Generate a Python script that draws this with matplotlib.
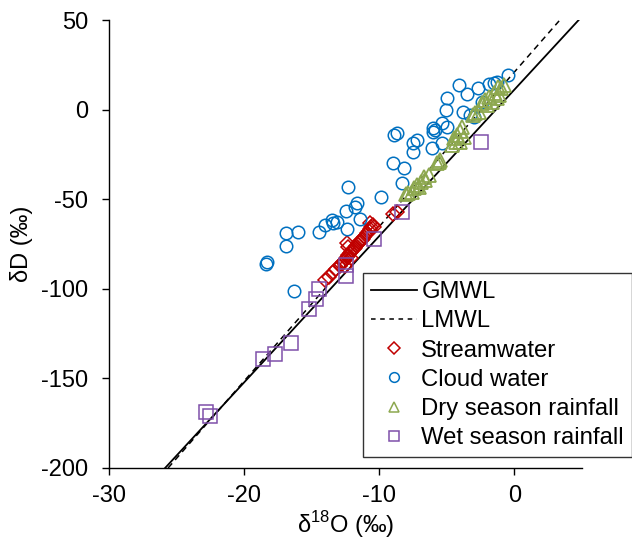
import numpy as np
import matplotlib
matplotlib.use("Agg")
import matplotlib.pyplot as plt
from matplotlib.lines import Line2D

plt.rcParams['font.family'] = ['Liberation Sans', 'DejaVu Sans']
plt.rcParams['mathtext.fontset'] = 'custom'
plt.rcParams['mathtext.rm'] = 'Liberation Sans'
plt.rcParams['axes.unicode_minus'] = False

# meteoric water lines (end points)
gmwl_x = [-25.85, 4.75]
gmwl_y = [-200, 50]
lmwl_x = [-25.63, 3.3]
lmwl_y = [-200, 49.5]

# streamwater
stream_x = [-14.0, -13.75, -13.4, -13.2, -12.9, -12.8, -12.7, -12.6, -12.5, -12.4,
            -12.35, -12.3, -12.2, -12.1, -12.0, -11.9, -12.3, -11.8, -11.7, -11.6,
            -11.5, -11.4, -11.3, -11.2, -11.1, -11.0, -10.9, -10.8, -10.7, -10.6,
            -10.5, -10.4, -10.7, -9.0, -8.7, -12.4, -12.55, -12.1]
stream_y = [-95, -93.5, -90.5, -89, -87, -86, -85, -84.5, -83.5, -82.5,
            -81.8, -81, -80, -79.5, -78.5, -78, -76.5, -77, -76, -75,
            -74, -73.5, -72.8, -72, -71, -70, -69, -67.5, -66.5, -65.5,
            -64.5, -65.5, -63.5, -58, -57, -74.7, -87.5, -83]

# cloud water
cloud_x = [-0.5, -4.1, -2.7, -1.9, -1.5, -1.3, -3.5, -5.0, -2.4, -5.1,
           -3.8, -3.3, -3.0, -6.05, -5.85, -6.0, -5.4, -5.0, -8.9, -8.7,
           -7.2, -7.5, -7.5, -6.1, -5.4, -9.0, -8.2, -8.3, -9.9, -12.3,
           -11.65, -11.8, -12.45, -11.45, -13.5, -13.1, -13.4, -14.0, -12.4, -14.5,
           -16.05, -16.9, -16.9, -18.3, -18.35, -16.3]
cloud_y = [19.5, 13.7, 11.8, 14.2, 15.0, 15.5, 8.5, 6.2, 4.4, 0.0,
           -1.5, -3.1, -4.0, -10.5, -11.4, -12.4, -7.7, -9.6, -14.2, -13.3,
           -17.0, -18.9, -23.5, -21.7, -18.9, -30.0, -32.5, -41.2, -48.5, -43.1,
           -52.3, -54.2, -56.5, -61.3, -61.7, -62.6, -63.5, -64.5, -66.9, -68.3,
           -68.5, -69.0, -76.0, -85.2, -86.0, -101.5]

# dry season rainfall
dry_x = [-0.8, -1.0, -1.2, -1.16, -1.5, -1.3, -1.9, -2.2, -2.4, -2.0,
         -1.7, -2.6, -2.9, -3.1, -3.9, -4.05, -4.25, -4.5, -3.75, -4.35,
         -4.6, -4.0, -5.5, -5.75, -5.6, -6.35, -6.6, -6.7, -6.95, -7.1,
         -7.2, -7.45, -7.6, -7.85, -8.0]
dry_y = [13.7, 11.8, 12.5, 8.1, 9.0, 6.2, 7.1, 5.3, 3.5, 2.5,
         4.5, -1.2, -2.1, -3.1, -9.6, -11.8, -14.2, -16.1, -15.2, -18.0,
         -19.8, -18.0, -28.2, -30.0, -29.0, -36.6, -39.3, -37.5, -40.3, -43.1,
         -42.1, -44.0, -45.9, -46.4, -47.0]

# wet season rainfall
wet_x = [-2.45, -8.3, -10.4, -12.45, -12.45, -14.5, -14.7, -15.2, -16.5, -17.7,
         -18.6, -22.8, -22.5]
wet_y = [-18, -57, -72.3, -86.8, -92.8, -100, -105.7, -111.5, -130, -136.3,
         -139, -168.5, -171]

red = '#C00000'
blue = '#0070C0'
green = '#8DA84F'
purple = '#7F4FAA'

fig = plt.figure(figsize=(6.32, 5.48), dpi=100)
ax = fig.add_axes([0.1725, 0.146, 0.7485, 0.8175])

ax.plot(gmwl_x, gmwl_y, color='black', lw=1.3, label='GMWL')
ax.plot(lmwl_x, lmwl_y, color='black', lw=1.1, ls=(0, (4, 3)), label='LMWL')
ax.plot(stream_x, stream_y, ls='none', marker='D', ms=7, mfc='none', mec=red, mew=1.1)
ax.plot(cloud_x, cloud_y, ls='none', marker='o', ms=9, mfc='none', mec=blue, mew=1.1)
ax.plot(dry_x, dry_y, ls='none', marker='^', ms=10, mfc='none', mec=green, mew=1.3)
ax.plot(wet_x, wet_y, ls='none', marker='s', ms=10, mfc='none', mec=purple, mew=1.1)

ax.set_xlim(-30, 5)
ax.set_ylim(-200, 50)
ax.set_xticks([-30, -20, -10, 0])
ax.set_yticks([-200, -150, -100, -50, 0, 50])
ax.spines['top'].set_visible(False)
ax.spines['right'].set_visible(False)
for s in ['left', 'bottom']:
    ax.spines[s].set_linewidth(1.0)
ax.tick_params(direction='out', length=5, width=1.0, labelsize=17)
ax.tick_params(axis='y', pad=10)
ax.tick_params(axis='x', pad=7)

ax.set_xlabel(r'δ$^{18}$O (‰)', fontsize=17, labelpad=2)
ax.set_ylabel('δD (‰)', fontsize=17, labelpad=6)

handles = [
    Line2D([], [], color='black', lw=1.3),
    Line2D([], [], color='black', lw=1.1, ls=(0, (3, 3))),
    Line2D([], [], ls='none', marker='D', ms=6, mfc='none', mec=red, mew=1.1),
    Line2D([], [], ls='none', marker='o', ms=7, mfc='none', mec=blue, mew=1.1),
    Line2D([], [], ls='none', marker='^', ms=7, mfc='none', mec=green, mew=1.1),
    Line2D([], [], ls='none', marker='s', ms=7, mfc='none', mec=purple, mew=1.1),
]
labels = ['GMWL', 'LMWL', 'Streamwater', 'Cloud water', 'Dry season rainfall', 'Wet season rainfall']
leg = fig.legend(handles, labels, loc='upper left', bbox_to_anchor=(0.574, 0.502),
                 fontsize=17.2, frameon=True, fancybox=False, edgecolor='black',
                 borderpad=0.35, labelspacing=0.3, handlelength=1.9,
                 handletextpad=0.2, borderaxespad=0)
leg.get_frame().set_linewidth(1.0)

fig.savefig('out.png', dpi=100)
